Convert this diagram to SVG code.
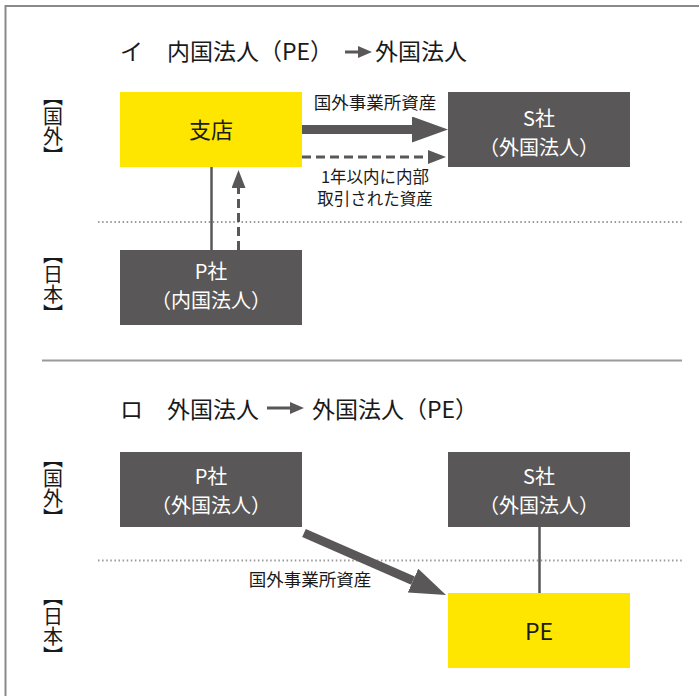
<svg xmlns="http://www.w3.org/2000/svg" width="699" height="696" viewBox="0 0 699 696">
<defs>
<style>
text{font-family:"Noto Sans CJK JP","Noto Sans",sans-serif;}
.title{font-size:23px;fill:#1a1a1a;}
.side{font-size:20px;fill:#1a1a1a;writing-mode:vertical-rl;text-anchor:middle;}
.lbl{font-size:17.5px;fill:#1a1a1a;text-anchor:middle;}
.lbl2{font-size:16.5px;fill:#1a1a1a;text-anchor:middle;}
.dark{fill:#595757;}
.yel{fill:#FFE600;}
.wt{font-size:20px;fill:#ffffff;text-anchor:middle;}
.bk{font-size:22px;fill:#1a1a1a;text-anchor:middle;}
.dot{stroke:#9a9a9a;stroke-width:2;stroke-dasharray:1.5 2.6;fill:none;}
.thick{stroke:#595757;stroke-width:9;fill:none;}
.dash{stroke:#595757;stroke-width:3;stroke-dasharray:9 5;fill:none;}
.solid{stroke:#595757;stroke-width:2.5;fill:none;}
</style>
<marker id="headBig" viewBox="0 0 36 26" markerWidth="36" markerHeight="26" refX="0" refY="13" markerUnits="userSpaceOnUse" orient="auto">
<path d="M0,0 L36,13 L0,26 z" fill="#595757"/>
</marker>
<marker id="headSmall" viewBox="0 0 18 14" markerWidth="18" markerHeight="14" refX="0" refY="7" markerUnits="userSpaceOnUse" orient="auto">
<path d="M0,0 L18,7 L0,14 z" fill="#595757"/>
</marker>
<marker id="headTitle" viewBox="0 0 14 12" markerWidth="14" markerHeight="12" refX="0" refY="6" markerUnits="userSpaceOnUse" orient="auto">
<path d="M0,0 L14,6 L0,12 z" fill="#595757"/>
</marker>
</defs>
<rect x="0" y="0" width="699" height="696" fill="#ffffff"/>
<rect x="5.5" y="6" width="720" height="720" fill="none" stroke="#8a8a8a" stroke-width="2"/>

<g id="section1-title">
<text class="title" x="120" y="60">イ</text>
<text class="title" x="167" y="60">内国法人（PE）</text>
<line x1="345" y1="52" x2="358" y2="52" stroke="#595757" stroke-width="3" marker-end="url(#headTitle)"/>
<text class="title" x="375" y="60">外国法人</text>
</g>

<g id="side-labels">
<text class="side" x="53" y="126">【国外】</text>
<text class="side" x="53" y="284">【日本】</text>
<text class="side" x="53" y="488">【国外】</text>
<text class="side" x="53" y="626">【日本】</text>
</g>

<g id="connectors">
<line class="dot" x1="98" y1="222" x2="682" y2="222"/>
<line x1="42" y1="360.5" x2="682" y2="360.5" stroke="#9a9a9a" stroke-width="2"/>
<line class="dot" x1="98" y1="560.5" x2="682" y2="560.5"/>
<line class="thick" x1="302" y1="129.5" x2="412" y2="129.5" marker-end="url(#headBig)"/>
<line class="dash" x1="302" y1="157" x2="428" y2="157" marker-end="url(#headSmall)"/>
<line class="solid" x1="211.5" y1="167" x2="211.5" y2="250"/>
<line class="dash" x1="238.5" y1="250" x2="238.5" y2="188" marker-end="url(#headSmall)"/>
<line class="solid" x1="539.5" y1="527" x2="539.5" y2="593"/>
<line class="thick" x1="304" y1="533" x2="413" y2="580.6" marker-end="url(#headBig)"/>
</g>

<g id="edge-labels">
<text class="lbl" x="375" y="109">国外事業所資産</text>
<text class="lbl2" x="375" y="183">1年以内に内部</text>
<text class="lbl2" x="375" y="205">取引された資産</text>
<text class="lbl" x="310" y="586">国外事業所資産</text>
</g>

<g id="shiten">
<rect class="yel" x="120" y="92" width="182" height="75"/>
<text class="bk" x="211" y="138">支店</text>
</g>
<g id="s-sha-1">
<rect class="dark" x="448" y="92" width="182" height="75"/>
<text class="wt" x="539" y="126">S社</text>
<text class="wt" x="539" y="155">（外国法人）</text>
</g>
<g id="p-sha-1">
<rect class="dark" x="120" y="250" width="182" height="75"/>
<text class="wt" x="211" y="279">P社</text>
<text class="wt" x="211" y="308">（内国法人）</text>
</g>

<g id="section2-title">
<text class="title" x="120" y="418">ロ</text>
<text class="title" x="167" y="418">外国法人</text>
<line x1="267" y1="408" x2="290" y2="408" stroke="#595757" stroke-width="3" marker-end="url(#headTitle)"/>
<text class="title" x="312" y="418">外国法人（PE）</text>
</g>

<g id="p-sha-2">
<rect class="dark" x="120" y="452" width="182" height="75"/>
<text class="wt" x="211" y="484">P社</text>
<text class="wt" x="211" y="513">（外国法人）</text>
</g>
<g id="s-sha-2">
<rect class="dark" x="448" y="452" width="182" height="75"/>
<text class="wt" x="539" y="484">S社</text>
<text class="wt" x="539" y="513">（外国法人）</text>
</g>
<g id="pe">
<rect class="yel" x="448" y="593" width="182" height="75"/>
<text class="bk" x="539" y="640" style="font-size:23px">PE</text>
</g>
</svg>
